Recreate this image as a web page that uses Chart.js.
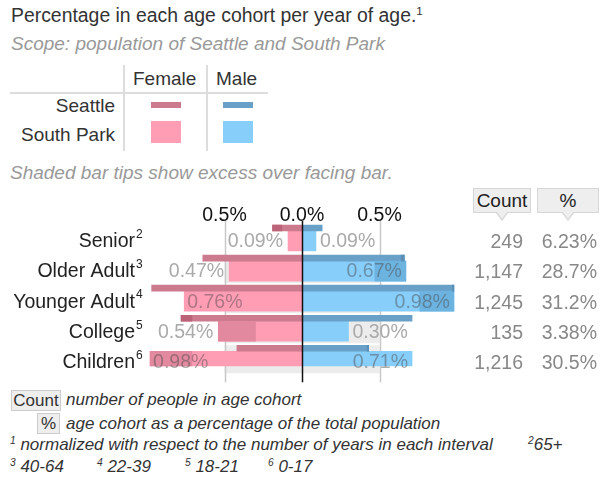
<!DOCTYPE html>
<html>
<head>
<meta charset="utf-8">
<script src="https://cdn.jsdelivr.net/npm/chart.js@4"></script>
<style>
  body { margin: 0; width: 600px; height: 477px; position: relative; overflow: hidden; background: #fff;
         font-family: "Liberation Sans", Arial, sans-serif; color: #333; }
  .t { position: absolute; white-space: nowrap; line-height: 1; }
  .it { font-style: italic; }
  .grey { color: #999; }
  sup { font-size: 60%; vertical-align: 0.6em; line-height: 0; }
  .line { position: absolute; background: #ddd; }
  .sw { position: absolute; }
  .btn { position: absolute; background: #eee; border: 1px solid #ccc; text-align: center; box-sizing: border-box; }
  .hdr { position: absolute; top: 188px; height: 25px; background: #eee; border: 1px solid #d6d6d6; box-sizing: border-box;
         text-align: center; font-size: 19px; line-height: 23px; color: #222; }
  .hdr::before, .hdr::after { content: ""; position: absolute; left: 50%; width: 0; height: 0; border-style: solid; }
  .hdr::before { top: 24px; margin-left: -6px; border-width: 8px 6px 0 6px; border-color: #d6d6d6 transparent transparent transparent; }
  .hdr::after { top: 23px; margin-left: -5px; border-width: 7px 5px 0 5px; border-color: #eee transparent transparent transparent; }
  #wrap { position: absolute; left: 0; top: 185px; width: 600px; height: 205px; }
</style>
</head>
<body>
<div class="t" style="left:11px;top:6px;font-size:19.4px;">Percentage in each age cohort per year of age.<sup>1</sup></div>
<div class="t it grey" style="left:11px;top:34px;font-size:19px;">Scope: population of Seattle and South Park</div>

<!-- legend table -->
<div class="line" style="left:123px;top:65px;width:2px;height:86px;"></div>
<div class="line" style="left:206px;top:65px;width:2px;height:86px;"></div>
<div class="line" style="left:10px;top:92px;width:258px;height:2px;"></div>
<div class="t" style="left:133px;top:69px;font-size:19px;">Female</div>
<div class="t" style="left:216px;top:69px;font-size:19px;">Male</div>
<div class="t" style="left:0;width:115px;text-align:right;top:96px;font-size:19px;">Seattle</div>
<div class="t" style="left:0;width:115px;text-align:right;top:125px;font-size:19px;">South Park</div>
<div class="sw" style="left:151px;top:102px;width:30px;height:6px;background:#cc7a8d;"></div>
<div class="sw" style="left:223px;top:102px;width:30px;height:6px;background:#68a0c8;"></div>
<div class="sw" style="left:151px;top:121px;width:30px;height:22px;background:#ff9db5;"></div>
<div class="sw" style="left:223px;top:121px;width:30px;height:22px;background:#87cefa;"></div>

<div class="t it grey" style="left:10px;top:163px;font-size:19px;">Shaded bar tips show excess over facing bar.</div>

<div class="hdr" style="left:473px;width:58px;">Count</div>
<div class="hdr" style="left:537px;width:62px;">%</div>

<div id="wrap"><canvas id="pyramid"></canvas></div>

<!-- footnotes -->
<div class="btn t" style="left:11px;top:390px;width:50px;height:21px;font-size:17px;line-height:19px;">Count</div>
<div class="t it" style="left:66px;top:391px;font-size:17px;">number of people in age cohort</div>
<div class="btn t" style="left:37px;top:413px;width:23px;height:21px;font-size:17px;line-height:19px;">%</div>
<div class="t it" style="left:66px;top:415px;font-size:17px;">age cohort as a percentage of the total population</div>
<div class="t it" style="left:10px;top:436px;font-size:17px;"><sup>1</sup> normalized with respect to the number of years in each interval</div>
<div class="t it" style="left:528px;top:436px;font-size:17px;"><sup>2</sup>65+</div>
<div class="t it" style="left:10px;top:458px;font-size:17px;"><sup>3</sup> 40-64</div>
<div class="t it" style="left:97px;top:458px;font-size:17px;"><sup>4</sup> 22-39</div>
<div class="t it" style="left:185px;top:458px;font-size:17px;"><sup>5</sup> 18-21</div>
<div class="t it" style="left:268px;top:458px;font-size:17px;"><sup>6</sup> 0-17</div>

<script>
// age cohorts, top to bottom, with their footnote marks
const categories = ['Senior', 'Older Adult', 'Younger Adult', 'College', 'Children'];
const footMarks = ['2', '3', '4', '5', '6'];

// percent per year of age
const seattleFemale = [0.19, 0.64, 0.97, 0.78, 0.42];
const seattleMale = [0.13, 0.66, 0.98, 0.71, 0.43];
const southParkFemale = [0.09, 0.47, 0.76, 0.54, 0.98];
const southParkMale = [0.09, 0.67, 0.98, 0.30, 0.71];

// right-hand table
const counts = [249, 1147, 1245, 135, 1216];
const shares = [6.23, 28.7, 31.2, 3.38, 30.5];

const tickValues = [-0.5, 0, 0.5];

const FONT = '"Liberation Sans", Arial, sans-serif';

// females go to the left
function bars(vals, sign) {
    return vals.map(v => [0, sign * v]);
}

// the part of a bar that sticks out past the facing bar
function excess(own, other, sign) {
    return own.map((v, i) => v > other[i] ? [sign * other[i], sign * v] : null);
}

function ds(data, color, stack, thick) {
    return {
        data: data,
        backgroundColor: color,
        stack: stack,
        barThickness: thick,
        borderWidth: 0
    };
}

const SEA = 6, SP = 20;

const datasets = [
    ds(excess(seattleFemale, seattleMale, -1), '#bb6479', 'sea', SEA),
    ds(excess(seattleMale, seattleFemale, 1), '#5a8fb8', 'sea', SEA),
    ds(excess(southParkFemale, southParkMale, -1), '#e2899f', 'sp', SP),
    ds(excess(southParkMale, southParkFemale, 1), '#6db3e0', 'sp', SP),
    ds(bars(seattleFemale, -1), '#cc7a8d', 'sea', SEA),
    ds(bars(seattleMale, 1), '#68a0c8', 'sea', SEA),
    ds(bars(southParkFemale, -1), '#ff9db5', 'sp', SP),
    ds(bars(southParkMale, 1), '#87cefa', 'sp', SP)
];

// grey reference band, grid lines, center line and the text on the bars
const backdrop = {
    id: 'backdrop',
    beforeDatasetsDraw(chart) {
        const { ctx, chartArea, scales: { x, y } } = chart;
        ctx.save();
        ctx.fillStyle = '#ececec';
        categories.forEach((c, i) => {
            const widest = Math.max(seattleFemale[i], seattleMale[i], southParkFemale[i], southParkMale[i]);
            if (widest <= 0.5) return;
            const cy = y.getPixelForValue(i);
            const x0 = x.getPixelForValue(-0.5), x1 = x.getPixelForValue(0.5);
            ctx.fillRect(x0, cy - 6, x1 - x0, 28);
        });
        ctx.strokeStyle = '#c8c8c8';
        ctx.lineWidth = 1.5;
        tickValues.filter(v => v !== 0).forEach(v => {
            const px = Math.round(x.getPixelForValue(v)) + 0.5;
            ctx.beginPath();
            ctx.moveTo(px, chartArea.top + 5);
            ctx.lineTo(px, chartArea.bottom + 16);
            ctx.stroke();
        });
        ctx.restore();
    },
    afterDatasetsDraw(chart) {
        const { ctx, chartArea, scales: { x, y } } = chart;
        ctx.save();
        // center line
        const zx = Math.round(x.getPixelForValue(0)) + 0.5;
        ctx.strokeStyle = '#111';
        ctx.lineWidth = 1.5;
        ctx.beginPath();
        ctx.moveTo(zx, chartArea.top + 5);
        ctx.lineTo(zx, chartArea.bottom + 16);
        ctx.stroke();

        ctx.textBaseline = 'middle';
        categories.forEach((c, i) => {
            const cy = y.getPixelForValue(i) + 11;
            ctx.font = '19.5px ' + FONT;
            // female value label
            const f = southParkFemale[i];
            const fx = x.getPixelForValue(-f);
            if (f > 0.6) {
                ctx.fillStyle = 'rgba(70,70,70,0.45)';
                ctx.textAlign = 'left';
                ctx.fillText(f.toFixed(2) + '%', fx + 3, cy);
            } else {
                ctx.fillStyle = '#aaa';
                ctx.textAlign = 'right';
                ctx.fillText(f.toFixed(2) + '%', fx - 5, cy);
            }
            // male value label
            const m = southParkMale[i];
            const mx = x.getPixelForValue(m);
            if (m > 0.6) {
                ctx.fillStyle = 'rgba(70,70,70,0.45)';
                ctx.textAlign = 'right';
                ctx.fillText(m.toFixed(2) + '%', mx - 4, cy);
            } else {
                ctx.fillStyle = '#aaa';
                ctx.textAlign = 'left';
                ctx.fillText(m.toFixed(2) + '%', mx + 4, cy);
            }
            // table columns
            ctx.fillStyle = '#888';
            ctx.textAlign = 'right';
            ctx.fillText(counts[i].toLocaleString('en-US'), 523, cy + 1);
            ctx.fillText(shares[i].toPrecision(3) + '%', 597, cy + 1);
            // superscript footnote marks on category labels
            ctx.fillStyle = '#222';
            ctx.textAlign = 'left';
            ctx.font = '12px ' + FONT;
            ctx.fillText(footMarks[i], y.right - 11, cy - 7);
        });
        ctx.restore();
    }
};

new Chart(document.getElementById('pyramid'), {
    type: 'bar',
    data: { labels: categories, datasets: datasets },
    plugins: [backdrop],
    options: {
        indexAxis: 'y',
        responsive: true,
        maintainAspectRatio: false,
        animation: false,
        layout: { padding: { top: 0, left: 0, right: 143, bottom: 23 } },
        plugins: { legend: { display: false }, tooltip: { enabled: false } },
        scales: {
            x: {
                position: 'top',
                min: -1,
                max: 1,
                stacked: false,
                afterFit: s => { s.height = 31; },
                afterBuildTicks: s => { s.ticks = tickValues.map(v => ({ value: v })); },
                grid: { display: false, drawTicks: false },
                border: { display: false },
                ticks: {
                    mirror: true,   // keeps the labels from being clipped to the axis box
                    padding: -12.5,
                    color: '#111',
                    font: { family: FONT, size: 19.5 },
                    callback: v => Math.abs(v).toFixed(1) + '%'
                }
            },
            y: {
                afterFit: s => { s.width = 147; },
                grid: { display: false, drawTicks: false },
                border: { display: false },
                ticks: {
                    padding: 12,
                    labelOffset: 11,
                    color: '#222',
                    font: { family: FONT, size: 19.5 }
                }
            }
        }
    }
});
</script>
</body>
</html>
